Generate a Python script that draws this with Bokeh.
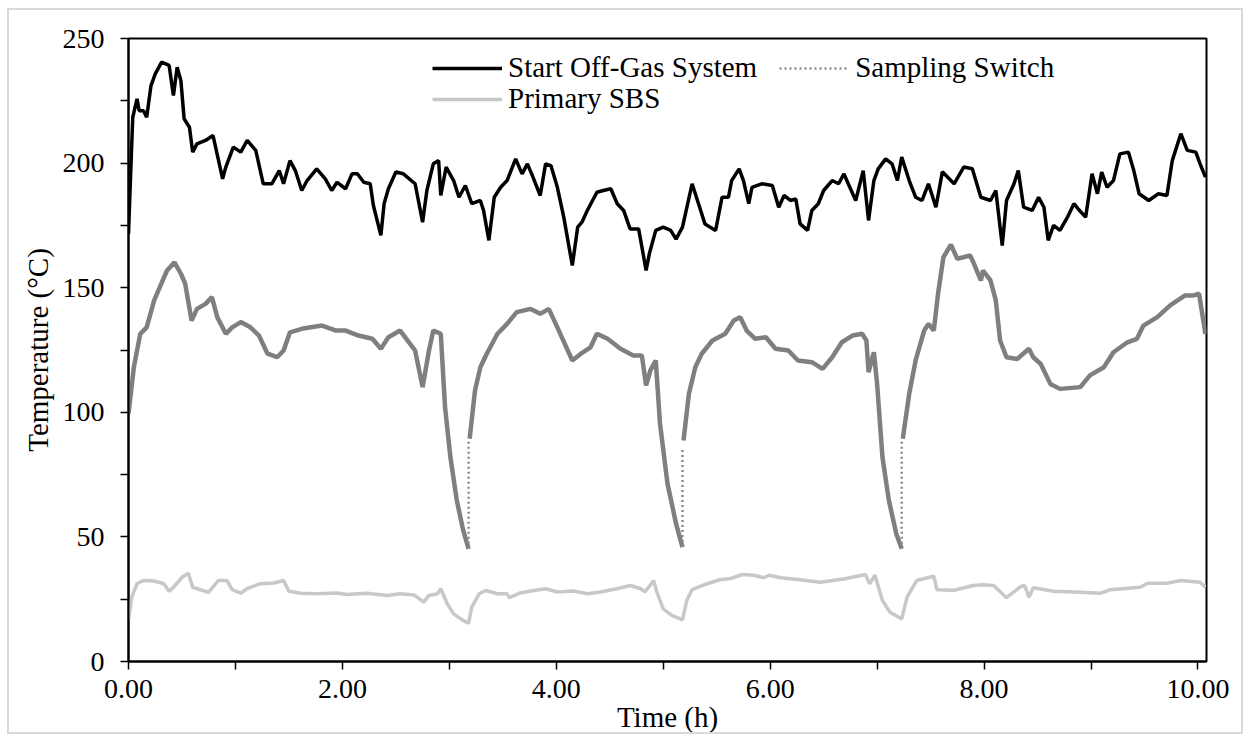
import numpy as np
from bokeh.plotting import figure
from bokeh.models import FixedTicker, Legend, LegendItem, Range1d
from bokeh.embed import file_html
from bokeh.resources import INLINE

FONT = "'Liberation Serif', 'Times New Roman', serif"
NaN = np.nan

# ---------------- data ----------------
x_ticks = [0, 1, 2, 3, 4, 5, 6, 7, 8, 9, 10]
x_tick_labels = ["0.00", "", "2.00", "", "4.00", "", "6.00", "", "8.00", "", "10.00"]
y_ticks = [0, 25, 50, 75, 100, 125, 150, 175, 200, 225, 250]
y_tick_labels = ["0", "", "50", "", "100", "", "150", "", "200", "", "250"]

offgas_t = [0.00, 0.02, 0.04, 0.08, 0.10, 0.14, 0.17, 0.21, 0.25, 0.31, 0.38, 0.42, 0.455, 0.49, 0.52,
            0.57, 0.60, 0.64, 0.72, 0.79, 0.88, 0.91, 0.98, 1.05, 1.11, 1.19, 1.26, 1.34, 1.41, 1.45,
            1.51, 1.56, 1.62, 1.67, 1.76, 1.84, 1.90, 1.95, 2.03, 2.09, 2.14, 2.20, 2.26, 2.29, 2.36,
            2.39, 2.43, 2.50, 2.57, 2.68, 2.75, 2.79, 2.85, 2.90, 2.92, 2.97, 3.04, 3.09, 3.15, 3.21,
            3.29, 3.32, 3.37, 3.42, 3.48, 3.54, 3.62, 3.68, 3.73, 3.77, 3.85, 3.90, 3.95, 4.01, 4.07,
            4.15, 4.20, 4.24, 4.29, 4.38, 4.44, 4.51, 4.57, 4.63, 4.69, 4.77, 4.84, 4.87, 4.93, 5.00,
            5.07, 5.12, 5.18, 5.27, 5.33, 5.39, 5.49, 5.55, 5.61, 5.64, 5.71, 5.75, 5.80, 5.83, 5.92,
            6.02, 6.08, 6.13, 6.19, 6.24, 6.28, 6.35, 6.39, 6.45, 6.50, 6.58, 6.64, 6.69, 6.73, 6.80,
            6.87, 6.92, 6.97, 7.01, 7.08, 7.14, 7.19, 7.23, 7.30, 7.36, 7.42, 7.48, 7.55, 7.61, 7.72,
            7.81, 7.89, 7.97, 8.06, 8.11, 8.17, 8.21, 8.28, 8.32, 8.37, 8.45, 8.51, 8.56, 8.60, 8.65,
            8.71, 8.78, 8.84, 8.88, 8.95, 9.01, 9.06, 9.10, 9.15, 9.21, 9.27, 9.35, 9.40, 9.45, 9.54,
            9.63, 9.71, 9.76, 9.84, 9.90, 9.98, 10.02, 10.07]
offgas_T = [171.6, 195.7, 218.4, 225.8, 221.0, 221.0, 218.4, 231.0, 235.8, 240.5, 239.2, 227.1, 238.5, 233.1, 217.8,
            214.4, 204.4, 207.7, 209.1, 211.1, 193.7, 198.4, 206.4, 204.4, 209.1, 205.1, 191.7, 191.7, 197.0, 191.7,
            201.0, 197.0, 189.0, 193.0, 197.7, 193.7, 189.0, 192.3, 189.7, 195.7, 195.7, 192.3, 191.7, 183.0, 171.0,
            183.7, 189.7, 196.4, 195.7, 191.7, 176.3, 189.0, 199.7, 201.0, 187.0, 198.4, 193.0, 186.3, 191.0, 183.7,
            185.0, 181.0, 169.0, 186.3, 190.3, 193.0, 201.7, 195.7, 199.7, 195.7, 187.0, 199.7, 199.0, 190.3, 178.3,
            158.9, 174.3, 176.3, 181.0, 188.3, 189.0, 189.7, 183.7, 181.0, 173.6, 173.6, 156.9, 163.6, 173.0, 174.3,
            173.0, 169.5, 174.3, 191.7, 183.7, 175.6, 173.0, 186.3, 186.3, 193.0, 197.7, 193.0, 183.7, 190.3, 191.7,
            191.0, 182.3, 187.0, 185.0, 185.6, 175.6, 173.0, 181.0, 183.7, 189.0, 193.0, 191.7, 195.7, 191.7, 185.0,
            197.0, 177.0, 193.0, 197.7, 201.7, 199.7, 193.0, 202.4, 193.0, 186.3, 185.0, 191.7, 182.3, 196.5, 191.7,
            198.4, 197.7, 186.3, 185.0, 189.0, 166.9, 185.0, 191.7, 197.0, 182.3, 181.0, 186.3, 182.3, 169.0, 175.0,
            173.0, 178.3, 183.7, 181.6, 178.3, 195.7, 187.7, 196.4, 190.3, 193.0, 203.7, 204.4, 197.0, 187.7, 185.0,
            187.7, 187.0, 201.0, 211.8, 205.1, 204.4, 199.7, 194.4]

secondary_t = [0.00, 0.05, 0.11, 0.17, 0.24, 0.30, 0.36, 0.43, 0.49, 0.53, 0.59, 0.64, 0.72, 0.78, 0.83,
               0.91, 0.97, 1.05, 1.14, 1.22, 1.30, 1.39, 1.45, 1.51, 1.62, 1.81, 1.94, 2.03, 2.15, 2.28,
               2.36, 2.43, 2.54, 2.61, 2.68, 2.75, 2.81, 2.85, 2.92, 2.96, 3.01, 3.07, 3.13, 3.18, NaN,
               3.19, 3.24, 3.29, 3.35, 3.45, 3.54, 3.63, 3.76, 3.85, 3.93, 4.01, 4.15, 4.23, 4.32, 4.38,
               4.48, 4.60, 4.72, 4.80, 4.84, 4.88, 4.93, 4.97, 5.04, 5.12, 5.18, NaN,
               5.19, 5.24, 5.30, 5.36, 5.46, 5.58, 5.66, 5.72, 5.78, 5.86, 5.96, 6.05, 6.17, 6.26, 6.39,
               6.49, 6.58, 6.67, 6.77, 6.86, 6.90, 6.92, 6.97, 7.00, 7.05, 7.11, 7.18, 7.23, NaN,
               7.24, 7.30, 7.36, 7.44, 7.48, 7.53, 7.57, 7.62, 7.69, 7.75, 7.87, 7.90, 7.97, 7.99, 8.06,
               8.11, 8.15, 8.21, 8.31, 8.42, 8.46, 8.53, 8.62, 8.71, 8.90, 8.99, 9.12, 9.21, 9.34, 9.43,
               9.49, 9.62, 9.74, 9.88, 9.96, 10.01, 10.07]
secondary_T = [99.4, 118.1, 131.5, 134.1, 144.9, 150.9, 156.9, 160.2, 155.6, 151.6, 136.8, 141.5, 143.5, 146.2, 138.2,
               131.5, 134.1, 136.2, 134.1, 130.8, 123.5, 122.1, 124.8, 132.1, 133.5, 134.8, 132.8, 132.8, 130.8, 129.5,
               125.5, 130.1, 132.8, 128.8, 124.8, 110.1, 124.8, 132.8, 131.5, 102.0, 82.0, 64.6, 52.6, 45.2, NaN,
               89.4, 108.7, 118.1, 123.5, 131.5, 135.5, 140.2, 141.5, 139.5, 141.5, 134.1, 120.8, 123.5, 126.1, 131.5,
               129.5, 125.5, 122.8, 122.8, 110.8, 116.8, 120.8, 95.4, 71.3, 55.3, 45.9, NaN,
               88.7, 107.4, 118.1, 123.5, 128.8, 131.5, 136.8, 138.2, 132.8, 129.5, 130.1, 125.5, 124.8, 120.8, 120.1,
               117.4, 122.1, 128.1, 130.8, 131.5, 128.8, 116.1, 124.1, 111.4, 82.0, 64.6, 51.2, 45.2, NaN,
               89.4, 107.4, 120.8, 132.8, 135.5, 132.8, 147.6, 162.2, 167.3, 161.6, 162.9, 160.2, 152.9, 156.9, 152.9,
               144.9, 128.8, 122.1, 121.4, 125.5, 122.1, 119.4, 111.4, 109.4, 110.1, 114.8, 118.1, 124.1, 128.1, 129.5,
               134.8, 138.2, 142.9, 146.9, 146.9, 147.6, 131.5]

switch_t = [3.18, 3.18, NaN, 5.18, 5.18, NaN, 7.23, 7.23]
switch_T = [45.2, 89.4, NaN, 45.9, 86.0, NaN, 45.2, 89.4]

sbs_t = [0.00, 0.03, 0.08, 0.14, 0.24, 0.33, 0.38, 0.42, 0.50, 0.56, 0.60, 0.67, 0.75, 0.84, 0.92,
         0.97, 1.05, 1.11, 1.23, 1.36, 1.45, 1.50, 1.61, 1.76, 1.95, 2.04, 2.23, 2.42, 2.54, 2.67,
         2.76, 2.81, 2.89, 2.92, 2.98, 3.04, 3.12, 3.18, 3.21, 3.28, 3.34, 3.45, 3.54, 3.56, 3.67,
         3.79, 3.90, 4.01, 4.16, 4.29, 4.41, 4.57, 4.69, 4.79, 4.83, 4.91, 4.94, 5.00, 5.08, 5.18,
         5.22, 5.27, 5.41, 5.53, 5.63, 5.74, 5.85, 5.94, 5.99, 6.10, 6.28, 6.47, 6.70, 6.89, 6.93,
         6.98, 7.05, 7.12, 7.23, 7.28, 7.37, 7.53, 7.56, 7.72, 7.90, 7.99, 8.09, 8.21, 8.34, 8.38,
         8.42, 8.46, 8.65, 8.90, 9.09, 9.18, 9.46, 9.53, 9.71, 9.84, 10.02, 10.07]
sbs_T = [16.5, 25.8, 31.2, 32.5, 32.3, 31.2, 28.2, 29.8, 33.8, 35.4, 29.8, 28.8, 27.8, 32.5, 32.5,
         28.8, 27.4, 29.3, 31.2, 31.5, 32.5, 28.2, 27.4, 27.2, 27.5, 26.9, 27.4, 26.5, 27.2, 26.7,
         23.8, 26.5, 27.2, 29.2, 23.2, 19.1, 16.7, 15.4, 21.8, 27.2, 28.5, 27.2, 27.2, 25.6, 27.6,
         28.5, 29.2, 27.9, 28.3, 27.2, 27.9, 29.2, 30.5, 29.2, 27.9, 32.5, 27.9, 21.1, 18.5, 16.7,
         24.5, 28.8, 31.2, 32.8, 33.3, 34.9, 34.6, 33.6, 34.6, 33.6, 32.8, 31.8, 33.2, 34.9, 31.2,
         34.6, 24.5, 19.8, 17.1, 25.8, 32.5, 34.2, 28.8, 28.6, 30.5, 30.8, 30.5, 25.6, 30.0, 30.5,
         25.8, 29.6, 28.2, 27.8, 27.4, 28.8, 29.8, 31.4, 31.4, 32.5, 31.8, 29.8]

# ---------------- figure ----------------
# canvas starts inside a light grey picture frame whose outer edge is at (7, 8)
p = figure(width=1236, height=726, output_backend="svg", toolbar_location=None,
           x_range=Range1d(0, 10.08), y_range=Range1d(0, 250),
           min_border_left=119, min_border_right=39, min_border_top=28, min_border_bottom=75)
p.styles = {"border": "2px solid #d9d9d9", "margin-left": "7px", "margin-top": "8px"}

p.background_fill_color = "white"
p.border_fill_color = "white"
p.outline_line_color = "black"
p.outline_line_width = 2
p.xgrid.visible = False
p.ygrid.visible = False

r_sbs = p.line(sbs_t, sbs_T, line_color="#c8c8c8", line_width=3.5)
r_sec = p.line(secondary_t, secondary_T, line_color="#7f7f7f", line_width=4.5)
r_sw = p.line(switch_t, switch_T, line_color="#8c8c8c", line_width=2.5, line_dash="2 3")
r_off = p.line(offgas_t, offgas_T, line_color="black", line_width=3.5)

for ax, ticks, labels in ((p.xaxis[0], x_ticks, x_tick_labels), (p.yaxis[0], y_ticks, y_tick_labels)):
    ax.ticker = FixedTicker(ticks=ticks, minor_ticks=[])
    ax.major_label_overrides = {t: l for t, l in zip(ticks, labels)}
    ax.axis_line_color = "black"
    ax.axis_line_width = 2
    ax.major_tick_line_color = "black"
    ax.major_tick_line_width = 1.5
    ax.major_tick_in = 0
    ax.major_tick_out = 8
    ax.minor_tick_out = 0
    ax.minor_tick_in = 0
    ax.major_label_text_font = FONT
    ax.major_label_text_font_size = "28px"
    ax.major_label_text_color = "black"
    ax.axis_label_text_font = FONT
    ax.axis_label_text_font_size = "29px"
    ax.axis_label_text_font_style = "normal"
    ax.axis_label_text_color = "black"

p.xaxis.axis_label = "Time (h)"
p.yaxis.axis_label = "Temperature (°C)"
p.xaxis.major_label_standoff = 10
p.xaxis.axis_label_standoff = 0
p.yaxis.major_label_standoff = 16
p.yaxis.axis_label_standoff = 6

def make_legend(items, loc):
    lg = Legend(items=items, location=loc, orientation="horizontal",
                label_text_font=FONT, label_text_font_size="29px", label_text_color="black",
                glyph_width=70, glyph_height=20, label_standoff=6, spacing=22,
                padding=0, margin=0, border_line_alpha=0, background_fill_alpha=0)
    p.add_layout(lg, "center")

make_legend([LegendItem(label="Start Off-Gas System", renderers=[r_off]),
             LegendItem(label="Sampling Switch", renderers=[r_sw])], (304, 577))
make_legend([LegendItem(label="Primary SBS", renderers=[r_sbs])], (304, 546))

open("out.html", "w").write(file_html(p, INLINE))
